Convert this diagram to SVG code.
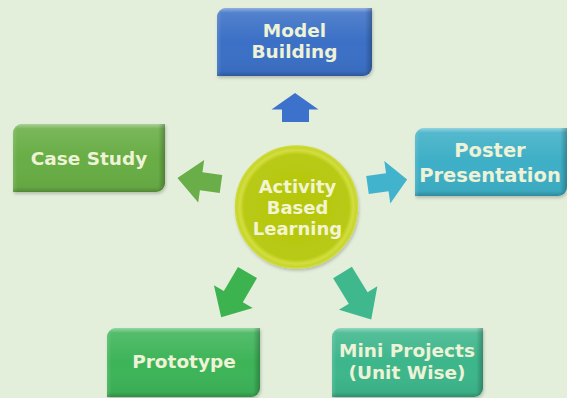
<svg xmlns="http://www.w3.org/2000/svg" width="567" height="398" viewBox="0 0 567 398">
  <defs>
    <style>
      .lbl { font-family: "DejaVu Sans", "Liberation Sans", sans-serif; font-weight: bold; font-size: 18.5px; fill: #eef2d6; text-anchor: middle; }
      .ctr { font-family: "DejaVu Sans", "Liberation Sans", sans-serif; font-weight: bold; font-size: 18px; fill: #f3f5d2; text-anchor: middle; }
      .gloss { fill: url(#gloss); }
      .edge { fill: url(#edge); }
      .arr { fill: url(#agloss); }
    </style>
    <linearGradient id="gloss" x1="0" y1="0" x2="0" y2="1">
      <stop offset="0" stop-color="#ffffff" stop-opacity="0.45"/>
      <stop offset="0.07" stop-color="#ffffff" stop-opacity="0.12"/>
      <stop offset="0.5" stop-color="#ffffff" stop-opacity="0"/>
      <stop offset="0.93" stop-color="#000000" stop-opacity="0.04"/>
      <stop offset="1" stop-color="#000000" stop-opacity="0.22"/>
    </linearGradient>
    <linearGradient id="edge" x1="0" y1="0" x2="1" y2="0">
      <stop offset="0" stop-color="#ffffff" stop-opacity="0.12"/>
      <stop offset="0.03" stop-color="#ffffff" stop-opacity="0"/>
      <stop offset="0.955" stop-color="#000000" stop-opacity="0"/>
      <stop offset="1" stop-color="#000000" stop-opacity="0.25"/>
    </linearGradient>
    <radialGradient id="ball" cx="0.5" cy="0.5" r="0.5">
      <stop offset="0" stop-color="#b5c60e"/>
      <stop offset="0.86" stop-color="#b8c913"/>
      <stop offset="0.93" stop-color="#d3de40"/>
      <stop offset="1" stop-color="#c3d124"/>
    </radialGradient>
    <filter id="sh" x="-10%" y="-10%" width="120%" height="130%">
      <feDropShadow dx="1" dy="2" stdDeviation="1.5" flood-color="#000000" flood-opacity="0.2"/>
    </filter>
  </defs>

  <rect x="0" y="0" width="567" height="398" fill="#e3eedb"/>

  <g id="connectors">
    <polygon id="arrow-up" points="295,93 318.5,109.5 309,109.5 309,122 282,122 282,109.5 271.5,109.5" fill="#3d72cc"/>
    <polygon id="arrow-left" transform="translate(221,184) rotate(188)" points="0,-9 20,-9 20,-21.5 44,0 20,21.5 20,9 0,9" fill="#69ae48"/>
    <polygon id="arrow-right" transform="translate(367.5,185) rotate(-8)" points="0,-9 20,-9 20,-21.5 40,0 20,21.5 20,9 0,9" fill="#42b3cd"/>
    <polygon id="arrow-downleft" transform="translate(247.5,272.5) rotate(120.4)" points="0,-11 28,-11 28,-22.5 52,0 28,22.5 28,11 0,11" fill="#3db34f"/>
    <polygon id="arrow-downright" transform="translate(342.5,272.5) rotate(58.5)" points="0,-11 30,-11 30,-22.5 55,0 30,22.5 30,11 0,11" fill="#3fb88d"/>
  </g>

  <g id="node-center">
    <circle cx="296.5" cy="207" r="61" fill="url(#ball)" stroke="#cfdb3a" stroke-width="1.5" filter="url(#sh)"/>
    <text class="ctr" x="297.5" y="192.5">Activity</text>
    <text class="ctr" x="297.5" y="213.5">Based</text>
    <text class="ctr" x="297.5" y="235">Learning</text>
  </g>

  <g id="node-model-building">
    <path d="M226 8 H372 V67 A9 9 0 0 1 363 76 H217 V17 A9 9 0 0 1 226 8 Z" fill="#3a6fc6" filter="url(#sh)"/>
    <path class="gloss" d="M226 8 H372 V67 A9 9 0 0 1 363 76 H217 V17 A9 9 0 0 1 226 8 Z"/>
    <path class="edge" d="M226 8 H372 V67 A9 9 0 0 1 363 76 H217 V17 A9 9 0 0 1 226 8 Z"/>
    <text class="lbl" x="294.5" y="37">Model</text>
    <text class="lbl" x="294.5" y="57.5">Building</text>
  </g>

  <g id="node-case-study">
    <path d="M22 124 H165 V183 A9 9 0 0 1 156 192 H13 V133 A9 9 0 0 1 22 124 Z" fill="#68ad45" filter="url(#sh)"/>
    <path class="gloss" d="M22 124 H165 V183 A9 9 0 0 1 156 192 H13 V133 A9 9 0 0 1 22 124 Z"/>
    <path class="edge" d="M22 124 H165 V183 A9 9 0 0 1 156 192 H13 V133 A9 9 0 0 1 22 124 Z"/>
    <text class="lbl" x="89" y="165">Case Study</text>
  </g>

  <g id="node-poster-presentation">
    <path d="M424 128 H567 V187 A9 9 0 0 1 558 196 H415 V137 A9 9 0 0 1 424 128 Z" fill="#3cafc6" filter="url(#sh)"/>
    <path class="gloss" d="M424 128 H567 V187 A9 9 0 0 1 558 196 H415 V137 A9 9 0 0 1 424 128 Z"/>
    <path class="edge" d="M424 128 H567 V187 A9 9 0 0 1 558 196 H415 V137 A9 9 0 0 1 424 128 Z"/>
    <text class="lbl" x="490" y="157" style="font-size:19.5px">Poster</text>
    <text class="lbl" x="490" y="182" style="font-size:19.5px">Presentation</text>
  </g>

  <g id="node-prototype">
    <path d="M116 328 H260 V388 A9 9 0 0 1 251 397 H107 V337 A9 9 0 0 1 116 328 Z" fill="#3db459" filter="url(#sh)"/>
    <path class="gloss" d="M116 328 H260 V388 A9 9 0 0 1 251 397 H107 V337 A9 9 0 0 1 116 328 Z"/>
    <path class="edge" d="M116 328 H260 V388 A9 9 0 0 1 251 397 H107 V337 A9 9 0 0 1 116 328 Z"/>
    <text class="lbl" x="184" y="368">Prototype</text>
  </g>

  <g id="node-mini-projects">
    <path d="M341 328 H483 V388 A9 9 0 0 1 474 397 H332 V337 A9 9 0 0 1 341 328 Z" fill="#3cb68b" filter="url(#sh)"/>
    <path class="gloss" d="M341 328 H483 V388 A9 9 0 0 1 474 397 H332 V337 A9 9 0 0 1 341 328 Z"/>
    <path class="edge" d="M341 328 H483 V388 A9 9 0 0 1 474 397 H332 V337 A9 9 0 0 1 341 328 Z"/>
    <text class="lbl" x="407" y="356.5">Mini Projects</text>
    <text class="lbl" x="407" y="378.5">(Unit Wise)</text>
  </g>
</svg>
